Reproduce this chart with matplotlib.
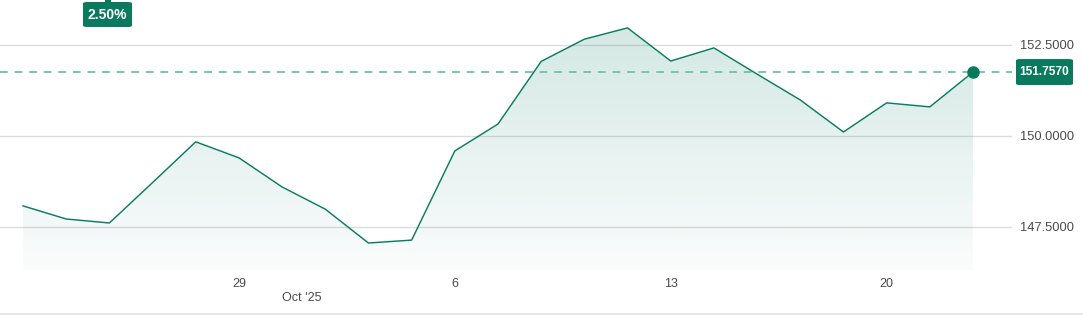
import matplotlib
matplotlib.use("Agg")
import matplotlib.pyplot as plt
import matplotlib.transforms as mtransforms
from matplotlib.patches import FancyBboxPatch, Polygon
import numpy as np

# ---- data ----
dates = ["Sep 22", "Sep 23", "Sep 24", "Sep 25", "Sep 26",
         "Sep 29", "Sep 30", "Oct 1", "Oct 2", "Oct 3",
         "Oct 6", "Oct 7", "Oct 8", "Oct 9", "Oct 10",
         "Oct 13", "Oct 14", "Oct 15", "Oct 16", "Oct 17",
         "Oct 20", "Oct 21", "Oct 22"]
values = [148.08, 147.72, 147.61, 148.72, 149.84,
          149.40, 148.60, 147.99, 147.06, 147.14,
          149.59, 150.33, 152.05, 152.66, 152.97,
          152.06, 152.42, 151.70, 150.99, 150.11,
          150.91, 150.80, 151.757]
xtick_idx = [5, 10, 15, 20]
xtick_labels = ["29", "6", "13", "20"]
month_label = "Oct '25"
month_idx = 6
ytick_vals = [147.5, 150.0, 152.5]
change_label = "2.50%"
last_value = values[-1]

LINE = "#0b7d61"
BADGE = "#0a7a5e"
DASH = "#78c4b1"
GRID = "#dcdcdc"
TXT = "#4a4a4a"

W, H = 1083, 315
fig = plt.figure(figsize=(W / 100, H / 100), dpi=100)
fig.patch.set_facecolor("white")

ax_left, ax_right = 0, 1012
ax_top, ax_bot = 0, 270
ax = fig.add_axes([ax_left / W, (H - ax_bot) / H, (ax_right - ax_left) / W, (ax_bot - ax_top) / H])
ax.set_facecolor("none")

x = np.arange(len(values))
px_per_idx = (973 - 23) / (len(values) - 1)
ax.set_xlim(-23 / px_per_idx, (len(values) - 1) + (1012 - 973) / px_per_idx)
ppu = 91 / 2.5
ax.set_ylim(150 - (270 - 136) / ppu, 150 + 136 / ppu)

for s in ax.spines.values():
    s.set_visible(False)

# grid
ax.set_yticks(ytick_vals)
ax.yaxis.tick_right()
ax.set_yticklabels([f"{v:.4f}" for v in ytick_vals])
ax.yaxis.grid(True, color=GRID, lw=1.0)
ax.set_axisbelow(True)
ax.tick_params(axis="y", length=0, pad=6, labelsize=9.3, labelcolor=TXT)
for lab in ax.get_yticklabels():
    lab.set_fontfamily("Liberation Sans")

ax.set_xticks(xtick_idx)
ax.set_xticklabels(xtick_labels)
ax.tick_params(axis="x", length=0, pad=6, labelsize=9, labelcolor=TXT)
for lab in ax.get_xticklabels():
    lab.set_fontfamily("Liberation Sans")

trans_x = mtransforms.blended_transform_factory(ax.transData, ax.transAxes)
ax.text(month_idx, -28 / 270, month_label, transform=trans_x, ha="left", va="center",
        fontsize=9, color=TXT, family="Liberation Sans")

# gradient fill
ymin = ax.get_ylim()[0]
ytop = max(values)
n = 256
alphas = np.linspace(0.18, 0.02, n)[:, None]
img = np.zeros((n, 1, 4))
img[..., 0] = 0.05
img[..., 1] = 0.50
img[..., 2] = 0.40
img[..., 3] = alphas
im = ax.imshow(img, extent=[x[0], x[-1], ymin, ytop], origin="upper", aspect="auto", zorder=1)
poly_pts = list(zip(x, values)) + [(x[-1], ymin), (x[0], ymin)]
poly = Polygon(poly_pts, closed=True, facecolor="none", edgecolor="none", transform=ax.transData)
ax.add_patch(poly)
im.set_clip_path(poly)

# dashed last value line
ax.axhline(last_value, color=DASH, lw=1.4, ls=(0, (4, 3.5)), zorder=2)

# line
ax.plot(x, values, color=LINE, lw=1.05, zorder=3)
ax.plot([x[-1]], [last_value], "o", color=BADGE, ms=8, zorder=4)

# last value badge (box positioned at the last value's height)
ly = ax.transData.transform((0, last_value))[1]  # display pixels (dpi=100 -> figure pixels)
bw, bh = 57, 26
fig.patches.append(FancyBboxPatch((1016 / W, (ly - bh / 2) / H), bw / W, bh / H,
                                  boxstyle="round,pad=0,rounding_size=0.004",
                                  fc=BADGE, ec="none", transform=fig.transFigure))
fig.text((1016 + bw / 2) / W, ly / H, f"{last_value:.4f}", ha="center", va="center",
         fontsize=8.6, color="white", weight="bold", family="Liberation Sans")

# change badge at top
fig.patches.append(FancyBboxPatch((105 / W, 1 - 1.5 / H), 6 / W, 3 / H, boxstyle="square,pad=0",
                                  fc=BADGE, ec="none", transform=fig.transFigure))
fig.patches.append(FancyBboxPatch((83 / W, 1 - 27 / H), 49 / W, 25 / H,
                                  boxstyle="round,pad=0,rounding_size=0.004",
                                  fc=BADGE, ec="none", transform=fig.transFigure))
fig.text(107.5 / W, 1 - 15 / H, change_label, ha="center", va="center", color="white",
         fontsize=10, weight="bold", family="Liberation Sans")

# bottom separator line
fig.add_artist(plt.Line2D([0, 1], [1 - 313.5 / H, 1 - 313.5 / H], transform=fig.transFigure,
                          color="#e2e2e2", lw=1.2))

fig.savefig("out.png", dpi=100, facecolor="white")
